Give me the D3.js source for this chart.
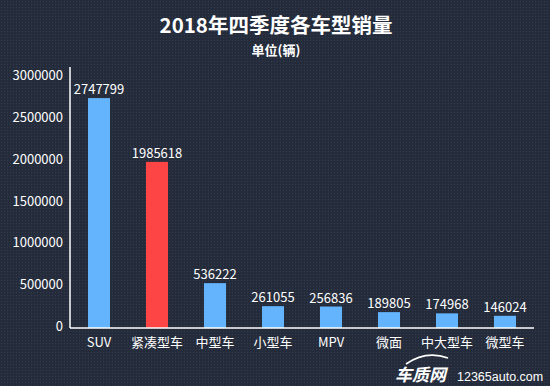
<!DOCTYPE html>
<html>
<head>
<meta charset="utf-8">
<script src="https://cdn.jsdelivr.net/npm/d3@7"></script>
<style>
    body { margin: 0; background: #262d3c; }
    text { font-family: "Noto Sans CJK SC", "Noto Sans", sans-serif; }
</style>
</head>
<body>
<div id="main"></div>
<script>
// chart data
var categories = ["SUV", "紧凑型车", "中型车", "小型车", "MPV", "微面", "中大型车", "微型车"];
var sales = [2747799, 1985618, 536222, 261055, 256836, 189805, 174968, 146024];
var yTicks = [0, 500000, 1000000, 1500000, 2000000, 2500000, 3000000];
var highlight = "紧凑型车";

var ctx = {
    w: 550,
    h: 386,
    left: 70,
    right: 534,
    top: 77,
    bottom: 328,
};

var svg = d3.select("#main").append("svg")
    .attr("width", ctx.w)
    .attr("height", ctx.h);

// dotted background texture
var defs = svg.append("defs");
var pat = defs.append("pattern")
    .attr("id", "dots")
    .attr("width", 3)
    .attr("height", 3)
    .attr("patternUnits", "userSpaceOnUse");
pat.append("rect").attr("width", 3).attr("height", 3).attr("fill", "#242b3a");
pat.append("rect").attr("x", 1).attr("y", 1).attr("width", 1).attr("height", 1).attr("fill", "#343c4d");

svg.append("rect")
    .attr("width", ctx.w)
    .attr("height", ctx.h)
    .attr("fill", "url(#dots)");

// titles
svg.append("text")
    .attr("x", 276)
    .attr("y", 33)
    .attr("text-anchor", "middle")
    .attr("fill", "#ffffff")
    .attr("font-size", 20.5)
    .attr("font-weight", "bold")
    .text("2018年四季度各车型销量");

svg.append("text")
    .attr("x", 276)
    .attr("y", 55)
    .attr("text-anchor", "middle")
    .attr("fill", "#ffffff")
    .attr("font-size", 13)
    .attr("font-weight", "bold")
    .text("单位(辆)");

var x = d3.scaleBand()
    .domain(categories)
    .range([ctx.left, ctx.right])
    .paddingInner(0.62)
    .paddingOuter(0.31);

var y = d3.scaleLinear()
    .domain([0, 3000000])
    .range([ctx.bottom, ctx.top]);

// y axis labels (no tick marks)
var yAxis = svg.append("g")
    .attr("transform", "translate(" + ctx.left + ",0)")
    .call(d3.axisLeft(y).tickValues(yTicks).tickSize(0).tickPadding(7).tickFormat(d3.format("d")));
yAxis.select(".domain").remove();
yAxis.selectAll("text")
    .attr("fill", "#ffffff")
    .attr("font-size", 13)
    .attr("dy", "0.2em")
    .style("font-family", '"Noto Sans CJK SC", "Noto Sans", sans-serif');

// x axis labels
var xAxis = svg.append("g")
    .attr("transform", "translate(0," + ctx.bottom + ")")
    .call(d3.axisBottom(x).tickSize(0).tickPadding(10));
xAxis.select(".domain").remove();
xAxis.selectAll("text")
    .attr("fill", "#ffffff")
    .attr("font-size", 13)
    .style("font-family", '"Noto Sans CJK SC", "Noto Sans", sans-serif');

// bars
svg.append("g")
    .selectAll("rect")
    .data(categories)
    .enter()
    .append("rect")
    .attr("x", function (d) { return x(d); })
    .attr("width", x.bandwidth())
    .attr("y", function (d, i) { return y(sales[i]); })
    .attr("height", function (d, i) { return ctx.bottom - y(sales[i]); })
    .attr("fill", function (d) { return d == highlight ? "#fd4545" : "#63b4fc"; });

// value labels
svg.append("g")
    .selectAll("text")
    .data(categories)
    .enter()
    .append("text")
    .attr("x", function (d) { return x(d) + x.bandwidth() / 2; })
    .attr("y", function (d, i) { return y(sales[i]) - 4; })
    .attr("text-anchor", "middle")
    .attr("fill", "#ffffff")
    .attr("font-size", 13)
    .text(function (d, i) { return sales[i]; });

// axis lines
svg.append("line")
    .attr("x1", ctx.left).attr("x2", ctx.left)
    .attr("y1", 67).attr("y2", ctx.bottom)
    .attr("stroke", "#ffffff").attr("stroke-width", 1.5);
svg.append("line")
    .attr("x1", ctx.left).attr("x2", ctx.right)
    .attr("y1", ctx.bottom).attr("y2", ctx.bottom)
    .attr("stroke", "#ffffff").attr("stroke-width", 1.5);

// watermark
var wm = svg.append("g").attr("fill", "#ffffff");
wm.append("path")
    .attr("d", "M406,364 Q426,350 448,358")
    .attr("fill", "none")
    .attr("stroke", "#ffffff")
    .attr("stroke-width", 1.8);
wm.append("text")
    .attr("x", 395)
    .attr("y", 381)
    .attr("font-size", 17)
    .attr("font-weight", "bold")
    .attr("font-style", "italic")
    .text("车质网");
wm.append("text")
    .attr("x", 457)
    .attr("y", 381)
    .attr("font-size", 12.5)
    .style("font-family", '"Liberation Sans", Arial, sans-serif')
    .text("12365auto.com");
</script>
</body>
</html>
